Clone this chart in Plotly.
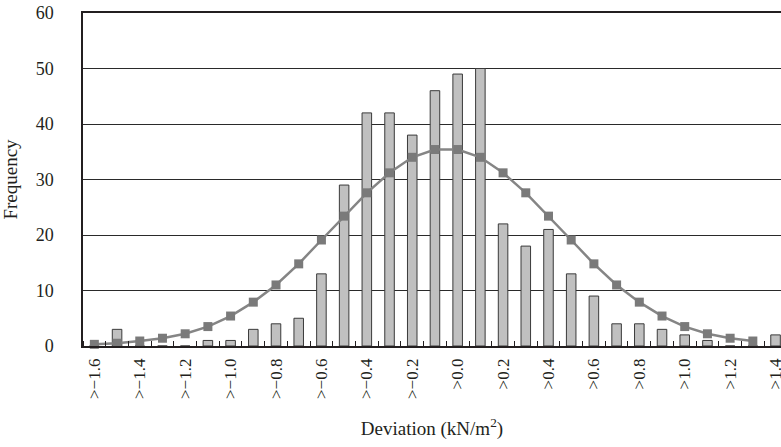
import plotly.graph_objects as go

categories = [round(-1.6 + 0.1 * i, 1) for i in range(31)]
frequency = [0, 3, 0, 0, 0, 1, 1, 3, 4, 5, 13, 29, 42, 42, 38, 46, 49, 50,
             22, 18, 21, 13, 9, 4, 4, 3, 2, 1, 0, 0, 2]
normal_fit = [0.3, 0.5, 0.9, 1.4, 2.2, 3.5, 5.4, 7.9, 11.0, 14.8, 19.1, 23.4,
              27.6, 31.2, 34.0, 35.4, 35.4, 34.0, 31.2, 27.6, 23.4, 19.1, 14.8,
              11.0, 7.9, 5.4, 3.5, 2.2, 1.4, 0.9]
tick_labels = [">\u2212%.1f" % abs(c) if c < 0 else ">%.1f" % c for c in categories]

idx = list(range(len(categories)))
font_family = "Liberation Serif, Times New Roman, serif"
ink = "#231f20"

fig = go.Figure()
fig.add_trace(go.Bar(
    x=idx, y=frequency,
    marker=dict(color="#c0c0c0", line=dict(color="#3a3a3a", width=1)),
    width=0.42, showlegend=False,
))
fig.add_trace(go.Scatter(
    x=idx[:len(normal_fit)], y=normal_fit, mode="lines+markers",
    line=dict(color="#858585", width=2.5),
    marker=dict(symbol="square", size=9, color="#7a7a7a"),
    showlegend=False, cliponaxis=False,
))

fig.update_layout(
    width=781, height=447,
    margin=dict(l=83, r=0, t=13, b=101, autoexpand=False),
    plot_bgcolor="white", paper_bgcolor="white",
    font=dict(family=font_family, color=ink),
    xaxis=dict(
        range=[-0.5, 30.24],
        automargin=False,
        tickmode="array",
        tickvals=idx[::2],
        ticktext=tick_labels[::2],
        tickangle=-90,
        tickfont=dict(size=17, family=font_family, color=ink),
        ticks="",
        ticklabeloverflow="allow",
        ticklabelstandoff=4,
        showgrid=False,
        showline=True, linecolor=ink, linewidth=1.5, mirror=True,
        minor=dict(tickmode="array", tickvals=[i + 0.5 for i in range(-1, 31)],
                   ticks="inside", ticklen=5, tickcolor=ink, tickwidth=1,
                   showgrid=False),
        title=dict(text="Deviation (kN/m<sup>2</sup>)", font=dict(size=19, family=font_family, color=ink),
                   standoff=24),
        zeroline=False,
    ),
    yaxis=dict(
        range=[0, 60],
        automargin=False,
        tickvals=[0, 10, 20, 30, 40, 50, 60],
        tickfont=dict(size=18, family=font_family, color=ink),
        ticklabeloverflow="allow",
        showgrid=True, gridcolor="#2a2a2a", gridwidth=1,
        showline=True, linecolor=ink, linewidth=1.5,
        ticks="", ticklabelstandoff=24,
        zeroline=False,
        title=dict(text="Frequency", font=dict(size=19, family=font_family, color=ink), standoff=19),
    ),
    bargap=0.58,
)

fig.write_html("out.html", config={"displayModeBar": False},
               post_script="document.body.style.margin='0px';")
